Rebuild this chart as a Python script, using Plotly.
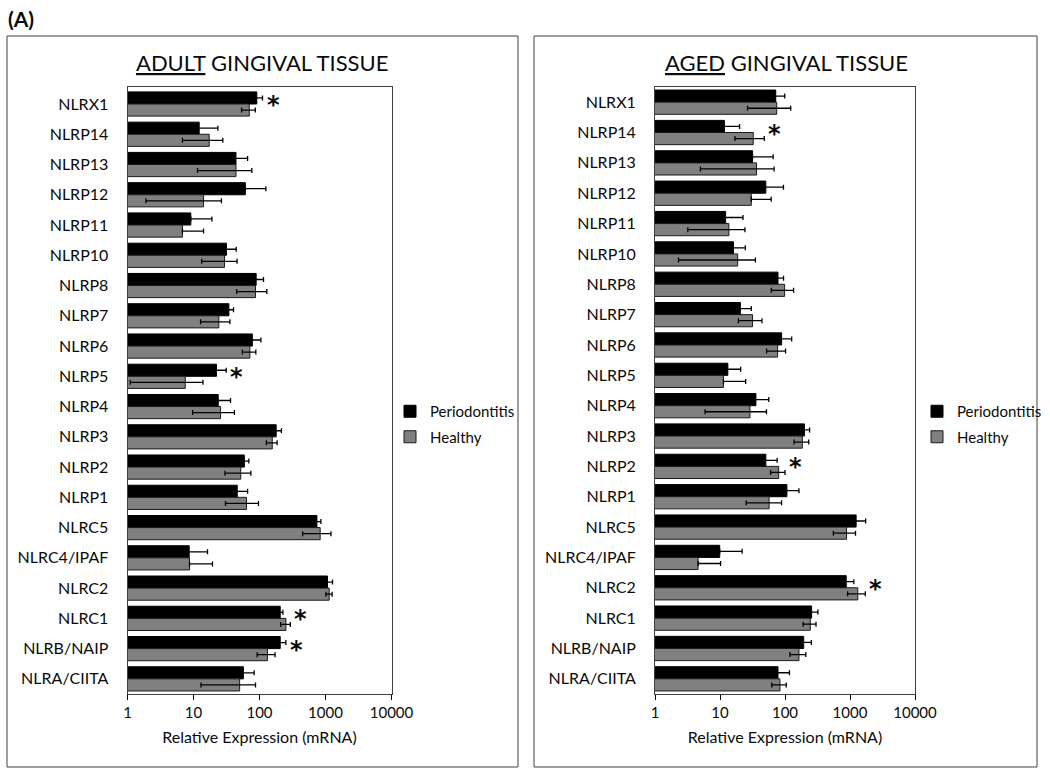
import math
import plotly.graph_objects as go

W, H = 1050, 778

def X(px):
    return px / W

def Y(py):
    return 1 - py / H

# ---------------- data ----------------
genes = ["NLRX1", "NLRP14", "NLRP13", "NLRP12", "NLRP11", "NLRP10", "NLRP8", "NLRP7",
         "NLRP6", "NLRP5", "NLRP4", "NLRP3", "NLRP2", "NLRP1", "NLRC5", "NLRC4/IPAF",
         "NLRC2", "NLRC1", "NLRB/NAIP", "NLRA/CIITA"]

adult_perio = [91, 12.2, 44, 61, 9.1, 31.6, 89, 34.4, 78, 22.3, 23.7, 179, 59, 46, 741, 8.6, 1071, 206, 206, 57]
adult_perio_err = [20, 11.2, 22, 64, 9.9, 12.8, 26, 6, 27, 9, 12.7, 36, 10, 20, 110, 7.7, 206, 20, 45, 26]
adult_healthy = [70, 17.3, 44, 14.2, 6.8, 29.5, 87, 24.2, 71.5, 7.5, 25.7, 156, 52, 63.5, 830, 8.7, 1137, 251, 132, 50]
adult_healthy_err = [16.5, 10.5, 32.5, 12.3, 7.4, 16.2, 42, 11.4, 16.5, 6.4, 16, 29, 22, 33, 380, 10.7, 123, 42, 40, 37]

aged_perio = [72, 11.7, 31.7, 50.7, 12.2, 16.1, 78, 20.6, 88.7, 13.2, 35.7, 199, 50.7, 107, 1243, 9.9, 875, 257, 194, 78]
aged_perio_err = [27, 8.3, 34, 44, 10.4, 8.4, 17, 9.7, 38, 7.6, 20.6, 40, 25, 57, 500, 12, 270, 64, 60, 39]
aged_healthy = [74.5, 32.5, 36.5, 30.3, 13.7, 18.7, 98.6, 31.7, 77, 11.3, 28.9, 185, 80, 56.9, 885, 4.6, 1318, 245, 164, 83.6]
aged_healthy_err = [48, 15.5, 31.5, 31, 10.5, 16.4, 37, 12.5, 25, 13.5, 23, 47, 20, 31.6, 330, 5.6, 400, 55, 45, 21]

adult_sig = ["NLRX1", "NLRP5", "NLRC1", "NLRB/NAIP"]
aged_sig = ["NLRP14", "NLRP2", "NLRC2"]

tick_vals = [1, 10, 100, 1000, 10000]
tick_text = ["1", "10", "100", "1000", "10000"]

FONT = "Lato"
TXT = "#0a0a0a"
BLACK = "#000000"
GRAY = "#808080"


def minus(vals, errs):
    return [e if v - e > 0 else 0 for v, e in zip(vals, errs)]


fig = go.Figure()

panels = [
    ("x", "y", "legend", adult_perio, adult_perio_err, adult_healthy, adult_healthy_err),
    ("x2", "y2", "legend2", aged_perio, aged_perio_err, aged_healthy, aged_healthy_err),
]

for xa, ya, lg, pv, pe, hv, he in panels:
    fig.add_trace(go.Bar(
        y=genes, x=pv, orientation="h", name="Periodontitis",
        marker=dict(color=BLACK, line=dict(color="#000000", width=1)),
        error_x=dict(type="data", array=pe, arrayminus=minus(pv, pe), symmetric=False,
                     color="#000000", thickness=1.3, width=2.5),
        xaxis=xa, yaxis=ya, legend=lg, legendgroup="p" + lg,
    ))
    fig.add_trace(go.Bar(
        y=genes, x=hv, orientation="h", name="Healthy",
        marker=dict(color=GRAY, line=dict(color="#1a1a1a", width=1)),
        error_x=dict(type="data", array=he, arrayminus=minus(hv, he), symmetric=False,
                     color="#000000", thickness=1.3, width=2.5),
        xaxis=xa, yaxis=ya, legend=lg, legendgroup="h" + lg,
    ))

axis_common = dict(
    type="log", range=[0, 4], tickvals=tick_vals, ticktext=tick_text,
    ticks="outside", ticklen=5, tickcolor="#000", showgrid=False, zeroline=False,
    showline=True, linecolor="#404040", linewidth=1, mirror=True,
    tickfont=dict(family=FONT, size=15, color=TXT),
    title=dict(text="Relative Expression (mRNA)", font=dict(family=FONT, size=16, color=TXT), standoff=11),
)
yaxis_common = dict(
    type="category", categoryorder="array", categoryarray=genes, autorange="reversed",
    showgrid=False, zeroline=False, showline=True, linecolor="#404040", linewidth=1, mirror=True,
    ticks="", tickfont=dict(family=FONT, size=16, color=TXT), ticklabelstandoff=15,
)

fig.update_layout(
    width=W, height=H, autosize=False,
    margin=dict(l=0, r=0, t=0, b=0, autoexpand=False),
    paper_bgcolor="white", plot_bgcolor="white",
    barmode="group", bargap=0.2, bargroupgap=0,
    xaxis=dict(domain=[X(127.5), X(391.5)], anchor="y", automargin=False, **axis_common),
    yaxis=dict(domain=[Y(694), Y(87)], anchor="x", automargin=False, **yaxis_common),
    xaxis2=dict(domain=[X(655), X(915)], anchor="y2", automargin=False, **axis_common),
    yaxis2=dict(domain=[Y(694), Y(87)], anchor="x2", automargin=False, **yaxis_common),
    legend=dict(x=X(390), y=Y(395), xanchor="left", yanchor="top", bgcolor="rgba(0,0,0,0)",
                font=dict(family=FONT, size=15, color=TXT), itemwidth=30, tracegroupgap=3),
    legend2=dict(x=X(917), y=Y(395), xanchor="left", yanchor="top", bgcolor="rgba(0,0,0,0)",
                 font=dict(family=FONT, size=15, color=TXT), itemwidth=30, tracegroupgap=3),
    showlegend=True,
)

shapes = [
    dict(type="rect", xref="paper", yref="paper", x0=X(7), x1=X(518), y0=Y(767), y1=Y(36),
         line=dict(color="#404040", width=1)),
    dict(type="rect", xref="paper", yref="paper", x0=X(534), x1=X(1037), y0=Y(767), y1=Y(36),
         line=dict(color="#404040", width=1)),
]
fig.update_layout(shapes=shapes)

annotations = [
    dict(text="<b>(A)</b>", x=X(6), y=Y(19), xref="paper", yref="paper", xanchor="left",
         yanchor="middle", showarrow=False, font=dict(family=FONT, size=21, color=TXT)),
    dict(text="<u>ADULT</u> GINGIVAL TISSUE", x=X(262), y=Y(63), xref="paper", yref="paper",
         xanchor="center", yanchor="middle", showarrow=False, font=dict(family=FONT, size=22, color=TXT)),
    dict(text="<u>AGED</u> GINGIVAL TISSUE", x=X(786), y=Y(63), xref="paper", yref="paper",
         xanchor="center", yanchor="middle", showarrow=False, font=dict(family=FONT, size=22, color=TXT)),
]

for sig, pv, pe, hv, he, xa, ya in [
    (adult_sig, adult_perio, adult_perio_err, adult_healthy, adult_healthy_err, "x", "y"),
    (aged_sig, aged_perio, aged_perio_err, aged_healthy, aged_healthy_err, "x2", "y2"),
]:
    for g in sig:
        i = genes.index(g)
        top = max(pv[i] + pe[i], hv[i] + he[i])
        annotations.append(dict(text="<b>*</b>", x=math.log10(top * 1.45), y=g, xref=xa, yref=ya,
                                xanchor="center", yanchor="middle", yshift=-1, showarrow=False,
                                font=dict(family="DejaVu Sans", size=24, color=TXT)))

fig.update_layout(annotations=annotations)

fig.write_html(
    "out.html",
    config={"responsive": False, "displayModeBar": False},
    post_script="document.body.style.margin='0';document.body.style.overflow='hidden';",
)
